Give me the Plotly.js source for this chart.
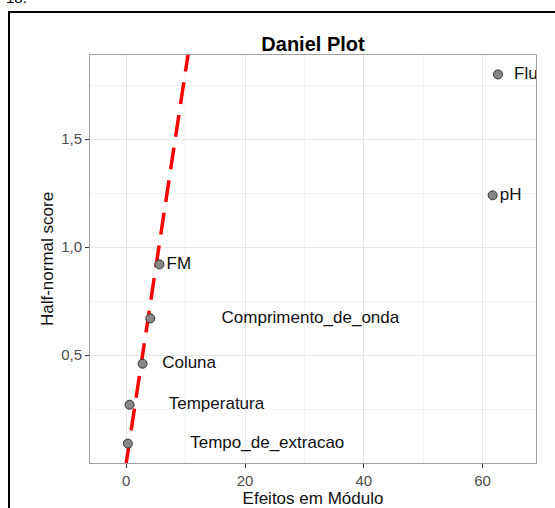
<!DOCTYPE html>
<html>
<head>
<meta charset="utf-8">
<script src="https://cdn.plot.ly/plotly-3.0.1.min.js"></script>
<style>
  html, body { margin: 0; padding: 0; width: 555px; height: 508px; overflow: hidden; background: #fff; }
  #chart { position: absolute; left: 0; top: 0; width: 555px; height: 508px; }
  #frame { position: absolute; left: 8px; top: 11px; width: 700px; height: 700px;
           border: 2px solid #000; pointer-events: none; }
  #fig { position: absolute; left: 6px; top: -10px; font: 15px "Liberation Sans", Arial, sans-serif;
         color: #000; line-height: 15px; }
</style>
</head>
<body>
<div id="fig">18.</div>
<div id="chart"></div>
<div id="frame"></div>
<script>
// Factor effects (absolute values) and their half-normal scores
const factors = ["Tempo_de_extracao", "Temperatura", "Coluna", "Comprimento_de_onda", "FM", "pH", "Fluxo"];
const effects = [0.28, 0.56, 2.75, 4.05, 5.6, 61.7, 62.6];
const scores  = [0.09, 0.27, 0.46, 0.67, 0.92, 1.24, 1.80];

// Reference line through the origin: effect = refSlope * score
const refSlope = 5.5;
const refScores = [0, 1.9];

const xTicks = [0, 20, 40, 60];
const yTicks = [0.5, 1.0, 1.5];

// Horizontal label placement (data units to the right of each point)
const labelShift = [10.5, 6.6, 3.3, 12.0, 1.2, 1.2, 2.7];

const font = '"Liberation Sans", Arial, sans-serif';

const traces = [
  {
    x: refScores.map(s => s * refSlope),
    y: refScores,
    mode: 'lines',
    line: { color: '#ff0000', width: 3.5, dash: '22px,11px' },
    hoverinfo: 'skip',
    showlegend: false
  },
  {
    x: effects,
    y: scores,
    mode: 'markers',
    marker: { size: 9, color: '#878787', line: { color: '#333333', width: 1 } },
    text: factors,
    showlegend: false
  },
  {
    x: effects.map((e, i) => e + labelShift[i]),
    y: scores,
    mode: 'text',
    text: factors,
    textposition: 'middle right',
    textfont: { family: font, size: 17, color: '#111' },
    cliponaxis: true,
    hoverinfo: 'skip',
    showlegend: false
  }
];

const axisCommon = {
  showline: true, mirror: true, linecolor: '#a0a0a0', linewidth: 1,
  showgrid: true, gridcolor: '#e6e6e6', gridwidth: 1,
  zeroline: false,
  ticks: 'outside', ticklen: 4, tickcolor: '#333', tickwidth: 1,
  tickfont: { family: font, size: 15, color: '#4d4d4d' }
};

const layout = {
  width: 555, height: 508,
  margin: { l: 90, r: 19, t: 55, b: 45 },
  paper_bgcolor: 'rgba(0,0,0,0)',
  plot_bgcolor: '#fff',
  separators: ', ',
  title: {
    text: '<b>Daniel Plot</b>',
    font: { family: font, size: 20, color: '#000' },
    x: 0.5, xref: 'paper', xanchor: 'center',
    y: 1 - 44 / 508, yref: 'container', yanchor: 'middle'
  },
  xaxis: Object.assign({}, axisCommon, {
    range: [-6.1, 69],
    tickvals: xTicks,
    minor: { dtick: 10, tick0: 0, showgrid: true, gridcolor: '#f3f3f3', gridwidth: 1, ticks: '' },
    title: { text: 'Efeitos em Módulo', font: { family: font, size: 17, color: '#111' }, standoff: 2 }
  }),
  yaxis: Object.assign({}, axisCommon, {
    range: [0, 1.89],
    tickvals: yTicks,
    tickformat: '.1f',
    minor: { dtick: 0.25, tick0: 0, showgrid: true, gridcolor: '#f3f3f3', gridwidth: 1, ticks: '' },
    title: { text: 'Half-normal score', font: { family: font, size: 17, color: '#111' }, standoff: 3 }
  }),
  showlegend: false
};

Plotly.newPlot('chart', traces, layout, { staticPlot: true, displayModeBar: false });
</script>
</body>
</html>
